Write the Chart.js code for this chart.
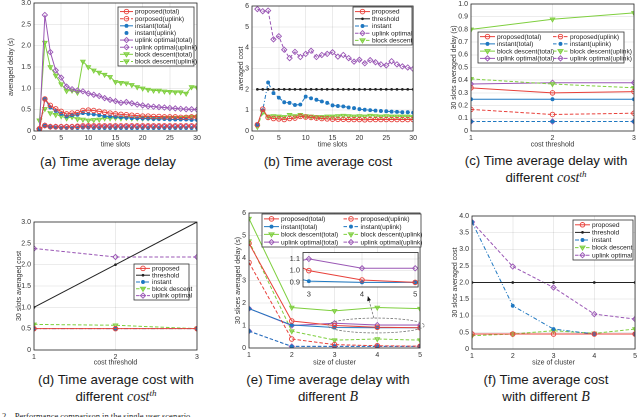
<!DOCTYPE html>
<html>
<head>
<meta charset="utf-8">
<script src="https://cdn.jsdelivr.net/npm/chart.js@4.4.0/dist/chart.umd.min.js"></script>
<style>
  body { margin: 0; background: #fff; width: 640px; height: 417px; overflow: hidden; position: relative;
         font-family: "Liberation Sans", Arial, sans-serif; }
  canvas { position: absolute; }
  .cap { position: absolute; text-align: center; font-size: 13.3px; line-height: 16.5px; color: #1a1a1a; white-space: nowrap; }
  .m { font-family: "Liberation Serif", "Times New Roman", serif; font-style: italic; font-size: 14px; }
  .m sup { font-size: 9px; vertical-align: 5px; line-height: 0; }
  .fig { position: absolute; left: 2px; top: 411px; font-family: "Liberation Serif", serif; font-size: 8.5px; color: #222; white-space: nowrap; }
</style>
</head>
<body>
<canvas id="ca"></canvas>
<canvas id="cb"></canvas>
<canvas id="cc"></canvas>
<canvas id="cd"></canvas>
<canvas id="ce"></canvas>
<canvas id="ceInset"></canvas>
<canvas id="cf"></canvas>

<div class="cap" style="left:8px;width:200px;top:154px">(a) Time average delay</div>
<div class="cap" style="left:228px;width:200px;top:154px">(b) Time average cost</div>
<div class="cap" style="left:446px;width:200px;top:153px">(c) Time average delay with<br>different <span class="m">cost<sup>th</sup></span></div>
<div class="cap" style="left:16px;width:200px;top:372px">(d) Time average cost with<br>different <span class="m">cost<sup>th</sup></span></div>
<div class="cap" style="left:228px;width:200px;top:372px">(e) Time average delay with<br>different <span class="m">B</span></div>
<div class="cap" style="left:446px;width:200px;top:372px">(f) Time average cost<br>with different <span class="m">B</span></div>
<div class="fig">2. &nbsp;&nbsp;Performance comparison in the single user scenario</div>

<script>
// ---- data ----
const timeSlots = [1,2,3,4,5,6,7,8,9,10,11,12,13,14,15,16,17,18,19,20,21,22,23,24,25,26,27,28,29,30];
const costThresholds = [1, 2, 3];
const clusterSizes = [1, 2, 3, 4, 5];

// (a) time average delay
const aProposedTotal  = [0.05,0.75,0.6,0.52,0.46,0.4,0.42,0.43,0.48,0.49,0.48,0.46,0.44,0.42,0.4,0.39,0.38,0.37,0.36,0.35,0.35,0.34,0.34,0.33,0.33,0.33,0.32,0.32,0.33,0.33];
const aProposedUplink = [0.05,0.13,0.1,0.1,0.1,0.1,0.1,0.11,0.12,0.12,0.12,0.12,0.12,0.12,0.12,0.12,0.12,0.12,0.12,0.12,0.12,0.12,0.12,0.12,0.12,0.12,0.12,0.12,0.12,0.12];
const aInstantTotal   = [0.05,0.75,0.55,0.47,0.4,0.34,0.37,0.38,0.42,0.4,0.39,0.37,0.35,0.34,0.33,0.32,0.31,0.3,0.3,0.29,0.29,0.28,0.28,0.28,0.27,0.27,0.27,0.27,0.26,0.26];
const aInstantUplink  = [0.05,0.12,0.09,0.08,0.07,0.07,0.07,0.07,0.08,0.08,0.07,0.07,0.07,0.07,0.07,0.07,0.07,0.07,0.07,0.07,0.07,0.07,0.07,0.07,0.07,0.07,0.07,0.07,0.07,0.07];
const aOptimalTotal   = [0.05,2.72,1.85,1.42,1.25,1.04,0.98,0.95,0.93,0.88,0.85,0.82,0.77,0.73,0.7,0.66,0.68,0.65,0.62,0.6,0.58,0.57,0.56,0.55,0.54,0.53,0.52,0.51,0.51,0.5];
const aOptimalUplink  = [0.05,0.13,0.1,0.1,0.1,0.1,0.1,0.1,0.1,0.1,0.1,0.1,0.1,0.1,0.1,0.1,0.1,0.1,0.1,0.1,0.1,0.1,0.1,0.1,0.1,0.1,0.1,0.1,0.1,0.1];
const aBlockTotal     = [0.25,2.07,1.5,1.3,1.1,0.94,0.95,0.9,1.63,1.5,1.42,1.37,1.32,1.27,1.15,1.13,1.12,1.08,1.03,1.0,0.97,0.95,0.95,0.93,0.92,0.91,0.91,0.88,1.03,1.02];
const aBlockUplink    = [0.25,0.52,0.42,0.38,0.35,0.3,0.33,0.28,0.27,0.25,0.26,0.27,0.3,0.3,0.31,0.3,0.31,0.3,0.3,0.3,0.3,0.3,0.3,0.31,0.31,0.31,0.31,0.32,0.33,0.33];

// (b) time average cost
const bProposed  = [0.3,1.05,0.65,0.6,0.58,0.55,0.6,0.62,0.7,0.67,0.65,0.62,0.6,0.58,0.57,0.56,0.56,0.55,0.55,0.55,0.54,0.55,0.55,0.55,0.55,0.55,0.55,0.55,0.55,0.55];
const bThreshold = [2,2,2,2,2,2,2,2,2,2,2,2,2,2,2,2,2,2,2,2,2,2,2,2,2,2,2,2,2,2];
const bInstant   = [0.3,1.0,2.33,1.82,1.6,1.38,1.35,1.25,1.27,1.65,1.57,1.5,1.42,1.35,1.23,1.2,1.18,1.13,1.1,1.05,1.02,1.0,0.98,0.96,0.95,0.93,0.92,0.9,0.9,0.88];
const bOptimal   = [5.85,5.75,5.78,4.4,4.55,3.9,3.5,3.8,3.55,3.7,3.85,3.55,3.65,3.7,3.78,3.57,3.65,3.5,3.33,3.42,3.25,3.4,3.3,3.2,3.15,3.35,3.2,3.1,3.05,2.98];
const bBlock     = [0.2,0.9,0.7,0.72,0.7,0.68,0.78,0.72,0.78,0.72,0.7,0.68,0.68,0.7,0.7,0.72,0.74,0.72,0.7,0.72,0.7,0.74,0.72,0.7,0.72,0.7,0.7,0.7,0.7,0.68];

// (c) delay vs cost threshold
const cProposedTotal  = [0.34, 0.30, 0.31];
const cProposedUplink = [0.17, 0.13, 0.14];
const cInstantTotal   = [0.25, 0.25, 0.25];
const cInstantUplink  = [0.075, 0.075, 0.075];
const cBlockTotal     = [0.80, 0.88, 0.93];
const cBlockUplink    = [0.41, 0.37, 0.34];
const cOptimalTotal   = [0.37, 0.38, 0.38];
const cOptimalUplink  = [0.075, 0.075, 0.075];

// (d) cost vs cost threshold
const dProposed  = [0.5, 0.5, 0.5];
const dThreshold = [1, 2, 3];
const dInstant   = [0.5, 0.5, 0.5];
const dBlock     = [0.6, 0.58, 0.5];
const dOptimal   = [2.38, 2.18, 2.18];

// (e) delay vs cluster size
const eProposedTotal  = [4.65, 1.2, 1.0, 0.92, 0.9];
const eProposedUplink = [3.8, 0.4, 0.15, 0.1, 0.08];
const eInstantTotal   = [1.75, 1.02, 0.91, 0.9, 0.9];
const eInstantUplink  = [0.75, 0.07, 0.07, 0.07, 0.07];
const eBlockTotal     = [5.75, 1.8, 1.65, 1.8, 1.75];
const eBlockUplink    = [4.75, 0.75, 0.35, 0.4, 0.35];
const eOptimalTotal   = [1.75, 1.0, 1.1, 1.02, 1.02];
const eOptimalUplink  = [0.75, 0.07, 0.07, 0.07, 0.07];

// (f) cost vs cluster size
const fProposed  = [0.45, 0.45, 0.45, 0.45, 0.45];
const fThreshold = [2, 2, 2, 2, 2];
const fInstant   = [3.82, 1.3, 0.6, 0.45, 0.45];
const fBlock     = [0.4, 0.45, 0.55, 0.47, 0.6];
const fOptimal   = [3.82, 2.48, 1.85, 1.05, 0.9];

// ---- styles ----
const RED = '#e8413b', BLUE = '#1f78c1', GREEN = '#7fcf3f', PURPLE = '#9a57b5', BLACK = '#222';
const FONT = '"Liberation Sans", Arial, sans-serif';
const DASH = [3.5, 2], DASHDOT = [4, 2, 1, 2];

function ser(label, xs, ys, color, marker, dash, noLine) {
  const st = { o: 'circle', d: 'rectRot', v: 'triangle', '.': 'circle', k: 'circle' }[marker];
  const r = { o: 2.3, d: 2.6, v: 2.6, '.': 1.5, k: 0.9 }[marker];
  let fill = 'rgba(255,255,255,0)';
  if (marker === '.' || marker === 'k') fill = color;
  if (marker === 'v') fill = color + '99';
  return {
    label, data: xs.map((x, i) => ({ x, y: ys[i] })),
    borderColor: color, backgroundColor: fill, borderWidth: 1,
    borderDash: dash || [], showLine: !noLine,
    pointStyle: st, pointRadius: r, pointRotation: marker === 'v' ? 180 : 0,
    pointBorderWidth: 0.9, tension: 0
  };
}

// marker for legend samples
function drawMarker(ctx, ds, x, y) {
  ctx.save();
  ctx.setLineDash([]);
  ctx.strokeStyle = ds.borderColor; ctx.fillStyle = ds.backgroundColor; ctx.lineWidth = 0.9;
  const r = ds.pointRadius;
  ctx.beginPath();
  if (ds.pointStyle === 'rectRot') {
    ctx.moveTo(x, y - r); ctx.lineTo(x + r, y); ctx.lineTo(x, y + r); ctx.lineTo(x - r, y); ctx.closePath();
  } else if (ds.pointStyle === 'triangle') {
    ctx.moveTo(x - r, y - r * 0.6); ctx.lineTo(x + r, y - r * 0.6); ctx.lineTo(x, y + r); ctx.closePath();
  } else {
    ctx.arc(x, y, r, 0, Math.PI * 2);
  }
  ctx.fill(); ctx.stroke();
  ctx.restore();
}

const boxLegend = {
  id: 'boxLegend',
  afterDraw(chart, args, o) {
    if (!o.rect) return;
    const ctx = chart.ctx, ds = chart.data.datasets;
    const [x0, y0, x1, y1] = o.rect;
    const cols = o.cols || 1, rows = Math.ceil(ds.length / cols);
    const rowH = (y1 - y0 - 2) / rows, colW = (x1 - x0) / cols;
    ctx.save();
    ctx.fillStyle = '#fff'; ctx.fillRect(x0, y0, x1 - x0, y1 - y0);
    ctx.strokeStyle = '#333'; ctx.lineWidth = 0.8; ctx.strokeRect(x0, y0, x1 - x0, y1 - y0);
    ctx.font = '6.6px ' + FONT; ctx.textBaseline = 'middle'; ctx.fillStyle = '#222';
    ds.forEach((d, i) => {
      const cx = x0 + 2 + (i % cols) * colW, cy = y0 + 1 + rowH * (Math.floor(i / cols) + 0.5);
      if (d.showLine !== false) {
        ctx.save();
        ctx.strokeStyle = d.borderColor; ctx.lineWidth = 1; ctx.setLineDash(d.borderDash || []);
        ctx.beginPath(); ctx.moveTo(cx, cy); ctx.lineTo(cx + o.sample, cy); ctx.stroke();
        ctx.restore();
      }
      drawMarker(ctx, d, cx + o.sample / 2, cy);
      ctx.fillStyle = '#222';
      ctx.fillText(d.label, cx + o.sample + 2, cy + 0.3);
    });
    ctx.restore();
  }
};

const frame = {
  id: 'frame',
  beforeDraw(chart, args, o) {
    if (!o.white) return;
    const a = chart.chartArea, ctx = chart.ctx;
    ctx.save(); ctx.fillStyle = '#fff'; ctx.fillRect(a.left, a.top, a.right - a.left, a.bottom - a.top); ctx.restore();
  },
  afterDatasetsDraw(chart) {
    const a = chart.chartArea, ctx = chart.ctx;
    ctx.save(); ctx.strokeStyle = '#262626'; ctx.lineWidth = 0.8;
    ctx.strokeRect(a.left, a.top, a.right - a.left, a.bottom - a.top);
    ctx.restore();
  }
};

// dashed ellipse + arrow pointing to the zoomed inset in (e)
const zoomMark = {
  id: 'zoomMark',
  afterDatasetsDraw(chart, args, o) {
    if (!o.on) return;
    const { ctx, scales: { x, y } } = chart;
    const cx = x.getPixelForValue(3.97), cy = y.getPixelForValue(1.0);
    const rx = x.getPixelForValue(5.1) - cx, ry = cy - y.getPixelForValue(1.33);
    ctx.save();
    ctx.strokeStyle = '#777'; ctx.lineWidth = 0.8; ctx.setLineDash([2.5, 1.5]);
    ctx.beginPath(); ctx.ellipse(cx, cy, rx, ry, 0, 0, Math.PI * 2); ctx.stroke();
    const ax = x.getPixelForValue(3.92), ay = y.getPixelForValue(1.33);
    const bx = x.getPixelForValue(3.78), by = y.getPixelForValue(2.3);
    ctx.beginPath(); ctx.moveTo(ax, ay); ctx.lineTo(bx, by); ctx.stroke();
    ctx.setLineDash([]); ctx.fillStyle = '#111';
    const ang = Math.atan2(by - ay, bx - ax);
    ctx.beginPath(); ctx.moveTo(bx, by);
    ctx.lineTo(bx - 5 * Math.cos(ang - 0.4), by - 5 * Math.sin(ang - 0.4));
    ctx.lineTo(bx - 5 * Math.cos(ang + 0.4), by - 5 * Math.sin(ang + 0.4));
    ctx.closePath(); ctx.fill();
    ctx.restore();
  }
};

// box = canvas [l,t,r,b], plot = plot area [l,t,r,b], both in page pixels
function makeChart(id, box, plot, o) {
  const cv = document.getElementById(id);
  cv.style.left = box[0] + 'px'; cv.style.top = box[1] + 'px';
  cv.width = box[2] - box[0]; cv.height = box[3] - box[1];
  const tickFont = { family: FONT, size: o.tickSize || 7 };
  const leg = o.legend ? { rect: [o.legend[0] - box[0], o.legend[1] - box[1], o.legend[2] - box[0], o.legend[3] - box[1]],
                           cols: o.cols || 1, sample: o.sample || 14 } : {};
  return new Chart(cv, {
    type: 'line',
    data: { datasets: o.datasets },
    options: {
      responsive: false, animation: false, devicePixelRatio: 2,
      layout: { padding: { left: 0, bottom: 0, top: plot[1] - box[1], right: box[2] - plot[2] } },
      plugins: { legend: { display: false }, tooltip: { enabled: false },
                 boxLegend: leg, zoomMark: { on: !!o.zoomMark }, frame: { white: !!o.white } },
      scales: {
        x: {
          type: 'linear', min: o.x[0], max: o.x[1],
          ticks: { stepSize: o.x[2], font: tickFont, color: '#333', padding: 3, maxRotation: 0, includeBounds: false },
          grid: { color: 'rgba(0,0,0,0.1)', lineWidth: 0.8, drawTicks: false },
          border: { display: false },
          title: { display: !!o.xTitle, text: o.xTitle, font: { family: FONT, size: 7 }, color: '#333', padding: 0 },
          afterFit(s) { s.height = box[3] - plot[3]; }
        },
        y: {
          min: o.y[0], max: o.y[1],
          ticks: { stepSize: o.y[2], font: tickFont, color: '#333', padding: 3, includeBounds: false },
          grid: { color: 'rgba(0,0,0,0.1)', lineWidth: 0.8, drawTicks: false },
          border: { display: false },
          title: { display: !!o.yTitle, text: o.yTitle, font: { family: FONT, size: 7 }, color: '#333', padding: 0 },
          afterFit(s) { s.width = plot[0] - box[0]; }
        }
      }
    },
    plugins: [frame, boxLegend, zoomMark]
  });
}

// (a)
makeChart('ca', [7, -6, 205, 149], [34, 3, 197, 131], {
  x: [0, 30, 5], y: [0, 3, 0.5], xTitle: 'time slots', yTitle: 'averaged delay (s)',
  legend: [118, 7, 194, 66], sample: 13,
  datasets: [
    ser('proposed(total)', timeSlots, aProposedTotal, RED, 'o'),
    ser('porposed(uplink)', timeSlots, aProposedUplink, RED, 'o', DASH),
    ser('instant(total)', timeSlots, aInstantTotal, BLUE, '.'),
    ser('instant(uplink)', timeSlots, aInstantUplink, BLUE, '.', null, true),
    ser('uplink optimal(total)', timeSlots, aOptimalTotal, PURPLE, 'd'),
    ser('uplink optimal(uplink)', timeSlots, aOptimalUplink, PURPLE, 'd', DASH),
    ser('block descent(total)', timeSlots, aBlockTotal, GREEN, 'v'),
    ser('block descent(uplink)', timeSlots, aBlockUplink, GREEN, 'v', DASH)
  ]
});

// (b)
makeChart('cb', [237, -6, 420, 149], [252, 6, 414, 131], {
  x: [0, 30, 5], y: [0, 6, 1], xTitle: 'time slots', yTitle: 'averaged cost',
  legend: [353, 7, 412, 45], sample: 15,
  datasets: [
    ser('proposed', timeSlots, bProposed, RED, 'o'),
    ser('threshold', timeSlots, bThreshold, BLACK, 'k'),
    ser('instant', timeSlots, bInstant, BLUE, '.', DASHDOT),
    ser('uplink optimal', timeSlots, bOptimal, PURPLE, 'd', DASH),
    ser('block descent', timeSlots, bBlock, GREEN, 'v', DASH)
  ]
});

// (c)
makeChart('cc', [450, -6, 640, 149], [471, 4, 634, 131], {
  x: [1, 3, 1], y: [0, 1, 0.1], xTitle: 'cost threshold', yTitle: '30 slots averaged delay (s)',
  legend: [478, 32, 624, 63], cols: 2, sample: 15,
  datasets: [
    ser('proposed(total)', costThresholds, cProposedTotal, RED, 'o'),
    ser('proposed(uplink)', costThresholds, cProposedUplink, RED, 'o', DASH),
    ser('instant(total)', costThresholds, cInstantTotal, BLUE, '.'),
    ser('instant(uplink)', costThresholds, cInstantUplink, BLUE, '.', DASH),
    ser('block descent(total)', costThresholds, cBlockTotal, GREEN, 'v'),
    ser('block descent(uplink)', costThresholds, cBlockUplink, GREEN, 'v', DASH),
    ser('uplink optimal(total)', costThresholds, cOptimalTotal, PURPLE, 'd'),
    ser('uplink optimal(uplink)', costThresholds, cOptimalUplink, PURPLE, 'd', DASH)
  ]
});

// (d)
makeChart('cd', [15, 212, 205, 367], [34, 222, 197, 350], {
  x: [1, 3, 1], y: [0, 3, 0.5], xTitle: 'cost threshold', yTitle: '30 slots averaged cost',
  legend: [134, 264, 189, 300], sample: 14,
  datasets: [
    ser('proposed', costThresholds, dProposed, RED, 'o'),
    ser('threshold', costThresholds, dThreshold, BLACK, 'k'),
    ser('instant', costThresholds, dInstant, BLUE, '.', DASHDOT),
    ser('block descent', costThresholds, dBlock, GREEN, 'v', DASH),
    ser('uplink optimal', costThresholds, dOptimal, PURPLE, 'd', DASH)
  ]
});

// (e)
const eSets = () => [
  ser('proposed(total)', clusterSizes, eProposedTotal, RED, 'o'),
  ser('proposed(uplink)', clusterSizes, eProposedUplink, RED, 'o', DASH),
  ser('instant(total)', clusterSizes, eInstantTotal, BLUE, '.'),
  ser('instant(uplink)', clusterSizes, eInstantUplink, BLUE, '.', DASH),
  ser('block descent(total)', clusterSizes, eBlockTotal, GREEN, 'v'),
  ser('block descent(uplink)', clusterSizes, eBlockUplink, GREEN, 'v', DASH),
  ser('uplink optimal(total)', clusterSizes, eOptimalTotal, PURPLE, 'd'),
  ser('uplink optimal(uplink)', clusterSizes, eOptimalUplink, PURPLE, 'd', DASH)
];
makeChart('ce', [234, 203, 425, 367], [249, 213, 421, 348], {
  x: [1, 5, 1], y: [0, 6, 1], xTitle: 'size of cluster', yTitle: '30 slices averaged delay (s)',
  legend: [262, 214, 421, 247], cols: 2, sample: 15, zoomMark: true,
  datasets: eSets()
});
// zoomed inset of (e)
makeChart('ceInset', [282, 245, 423, 301], [303, 250, 419, 287], {
  x: [2.89, 5.055, 1], y: [0.86, 1.155, 0.1], tickSize: 7.5, white: true,
  datasets: eSets()
});

// (f)
makeChart('cf', [451, 206, 640, 367], [472, 216, 636, 349], {
  x: [1, 5, 1], y: [0, 4, 0.5], xTitle: 'size of cluster', yTitle: '30 slots averaged cost',
  legend: [573, 220, 633, 260], sample: 15,
  datasets: [
    ser('proposed', clusterSizes, fProposed, RED, 'o'),
    ser('threshold', clusterSizes, fThreshold, BLACK, 'k'),
    ser('instant', clusterSizes, fInstant, BLUE, '.', DASHDOT),
    ser('block descent', clusterSizes, fBlock, GREEN, 'v', DASH),
    ser('uplink optimal', clusterSizes, fOptimal, PURPLE, 'd', DASH)
  ]
});
</script>
</body>
</html>
